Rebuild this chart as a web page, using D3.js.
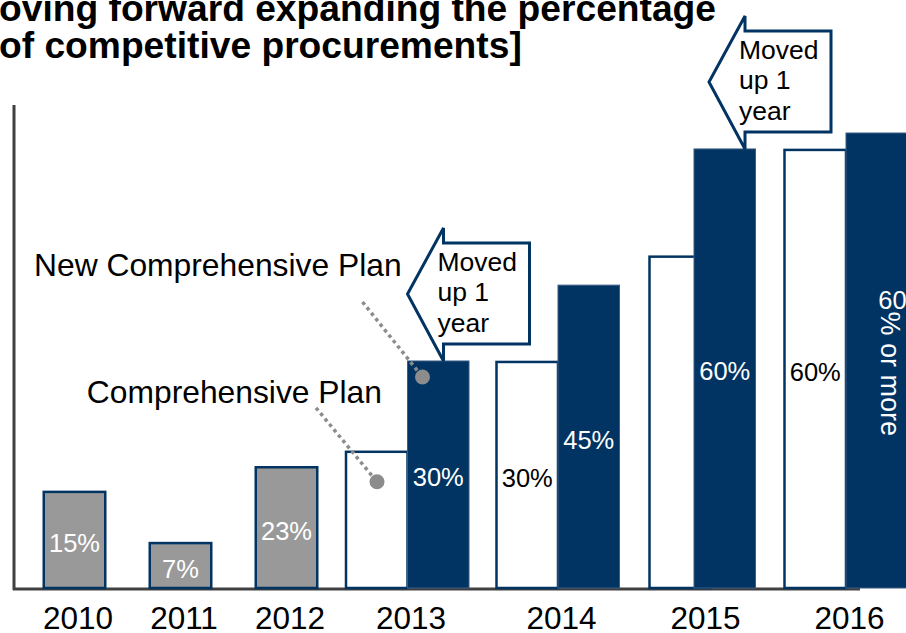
<!DOCTYPE html>
<html><head><meta charset="utf-8">
<script src="https://cdn.jsdelivr.net/npm/d3@7"></script>
<style>html,body{margin:0;padding:0;background:#fff;overflow:hidden}</style>
</head><body><svg id="c" width="906" height="633"></svg>
<script>
// ---------- data ----------
const titleLines = ["oving forward expanding the percentage", "of competitive procurements]"];
const years = ["2010","2011","2012","2013","2014","2015","2016"];
const actualYears = ["2010","2011","2012"];
const actualValues = [19.9, 9.3, 25.0];          // bar heights (chart units, as drawn)
const actualLabels = ["15%","7%","23%"];
const planYears = ["2013","2014","2015","2016"];
const planValues = [28.2, 46.8, 68.6, 90.7];     // Comprehensive Plan (white bars)
const planLabels = ["","30%","","60%"];
const newPlanValues = [47.0, 62.7, 90.9, 94.2];  // New Comprehensive Plan (navy bars)
const newPlanLabels = ["30%","45%","60%","60% or more"];
const calloutYears = ["2013","2015"];
const calloutLines = ["Moved","up 1","year"];
const seriesNames = ["Comprehensive Plan","New Comprehensive Plan"];

// ---------- layout / style ----------
const NAVY = "#013462", GRAY = "#999999", AX = "#404040", DOT = "#8c8c8c";
const FONT = "'Liberation Sans', Arial, sans-serif";
const bw = 61.5;
const pairShift = {"2015": [9, -8]};       // white bar slid under the navy bar
const calloutTipDx = {"2013": 36, "2015": 51};

const svg = d3.select("#c").style("font-family", FONT);

const y = d3.scaleLinear().domain([0, 100]).range([588, 105]);
const x = d3.scaleLinear()
  .domain([2010, 2012, 2013, 2014, 2016])
  .range([74.5, 286.5, 407.5, 558, 846]);

// title
svg.append("g").selectAll("text").data(titleLines).join("text")
  .attr("x", -1).attr("y", (d, i) => 21 + i * 37)
  .attr("font-size", 37.2).attr("font-weight", "bold").attr("fill", "#000")
  .text(d => d);

// axes
svg.append("line").attr("x1", 14).attr("x2", 14).attr("y1", 105).attr("y2", 590)
  .attr("stroke", AX).attr("stroke-width", 3);
svg.append("line").attr("x1", 13).attr("x2", 860).attr("y1", 589).attr("y2", 589)
  .attr("stroke", AX).attr("stroke-width", 3);

// actual bars
const act = actualYears.map((yr, i) => ({yr, v: actualValues[i], lab: actualLabels[i]}));
svg.append("g").selectAll("rect").data(act).join("rect")
  .attr("x", d => x(+d.yr) - bw / 2).attr("width", bw)
  .attr("y", d => y(d.v)).attr("height", d => y(0) - y(d.v))
  .attr("fill", GRAY).attr("stroke", NAVY).attr("stroke-width", 2.5);
svg.append("g").selectAll("text").data(act).join("text")
  .attr("x", d => x(+d.yr)).attr("y", d => (y(d.v) + y(0)) / 2 + 3)
  .attr("text-anchor", "middle").attr("dominant-baseline", "central")
  .attr("font-size", 25.5).attr("fill", "#fff").text(d => d.lab);

// plan pairs
const pairs = planYears.map((yr, i) => {
  const a = x(+yr), s = pairShift[yr] || [0, 0];
  return {yr, a, wx: a - bw + s[0], nx: a + s[1],
    pv: planValues[i], nv: newPlanValues[i], pl: planLabels[i], nl: newPlanLabels[i]};
});
svg.append("g").selectAll("rect").data(pairs).join("rect")
  .attr("x", d => d.wx).attr("width", bw)
  .attr("y", d => y(d.pv)).attr("height", d => y(0) - y(d.pv))
  .attr("fill", "#fff").attr("stroke", NAVY).attr("stroke-width", 2.5);
svg.append("g").selectAll("rect").data(pairs).join("rect")
  .attr("x", d => d.nx).attr("width", bw)
  .attr("y", d => y(d.nv)).attr("height", d => y(0) - y(d.nv))
  .attr("fill", NAVY).attr("stroke", "#3a5d85").attr("stroke-width", 1);

svg.append("g").selectAll("text").data(pairs.filter(d => d.pl)).join("text")
  .attr("x", d => d.wx + bw / 2).attr("y", d => (y(d.pv) + y(0)) / 2 + 3)
  .attr("text-anchor", "middle").attr("dominant-baseline", "central")
  .attr("font-size", 25.5).attr("fill", "#000").text(d => d.pl);
svg.append("g").selectAll("text").data(pairs.filter(d => d.nl.length <= 4)).join("text")
  .attr("x", d => d.nx + bw / 2).attr("y", d => (y(d.nv) + y(0)) / 2 + 3)
  .attr("text-anchor", "middle").attr("dominant-baseline", "central")
  .attr("font-size", 25.5).attr("fill", "#fff").text(d => d.nl);

// vertical label ("60" upright, rest rotated)
pairs.filter(d => d.nl.length > 4).forEach(d => {
  const mid = (y(d.nv) + y(0)) / 2;
  const cx = d.nx + 46.5;
  const m = d.nl.match(/^(\d+)(.*)$/);
  svg.append("text").attr("x", cx).attr("y", mid - 52)
    .attr("text-anchor", "middle").attr("font-size", 25.5).attr("fill", "#fff").text(m[1]);
  svg.append("text").attr("transform", `translate(${cx - 11.5},${mid - 49})rotate(90)`)
    .attr("font-size", 27).attr("fill", "#fff").text(m[2]);
});

// year labels
svg.append("g").selectAll("text").data(years).join("text")
  .attr("x", d => x(+d) + 3.5).attr("y", 628.5)
  .attr("text-anchor", "middle").attr("font-size", 31.5).attr("fill", "#000").text(d => d);

// callouts
calloutYears.forEach(yr => {
  const p = pairs.find(d => d.yr === yr);
  const tx = p.nx + calloutTipDx[yr], b = y(p.nv);
  const path = `M${tx},${b} L${tx - 36},${b - 67} L${tx},${b - 133} L${tx},${b - 118}
    L${tx + 86},${b - 118} L${tx + 86},${b - 17} L${tx},${b - 17} Z`;
  svg.append("path").attr("d", path).attr("fill", "#fff")
    .attr("stroke", NAVY).attr("stroke-width", 3).attr("stroke-linejoin", "miter");
  svg.append("g").selectAll("text").data(calloutLines).join("text")
    .attr("x", tx - 6).attr("y", (d, i) => b - 118 + 28 + i * 30.5)
    .attr("font-size", 26.5).attr("fill", "#000").text(d => d);
});

// annotations with dotted leaders
const p13 = pairs.find(d => d.yr === "2013");
const notes = [
  {name: seriesNames[1], tx: 34, ty: 276, anchor: "start",
   x1: p13.nx - 45, y1: y(p13.nv) - 59, x2: p13.nx + 15, y2: y(p13.nv) + 16},
  {name: seriesNames[0], tx: 382, ty: 403, anchor: "end",
   x1: p13.wx - 30, y1: y(p13.pv) - 44, x2: p13.wx + 31, y2: y(p13.pv) + 30}
];
notes.forEach(n => {
  svg.append("text").attr("x", n.tx).attr("y", n.ty).attr("text-anchor", n.anchor)
    .attr("font-size", 31.8).attr("fill", "#000").text(n.name);
  svg.append("line").attr("x1", n.x1).attr("y1", n.y1).attr("x2", n.x2).attr("y2", n.y2)
    .attr("stroke", DOT).attr("stroke-width", 3.5).attr("stroke-dasharray", "3.5 3.5");
  svg.append("circle").attr("cx", n.x2).attr("cy", n.y2).attr("r", 7.5).attr("fill", DOT);
});
</script></body></html>
